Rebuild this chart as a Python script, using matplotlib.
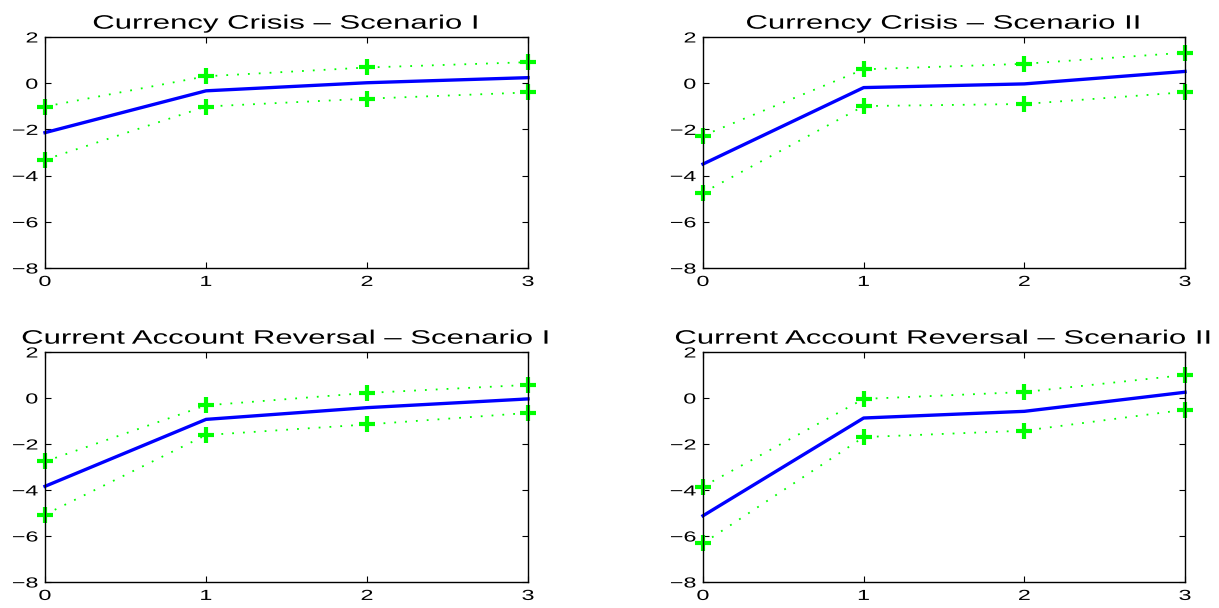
import matplotlib
matplotlib.use("Agg")
import matplotlib.pyplot as plt
from matplotlib.patheffects import AbstractPathEffect
from matplotlib.transforms import Affine2D

plt.rcParams['font.family'] = ['Liberation Sans', 'DejaVu Sans']

horizons = [0, 1, 2, 3]
x_ticks = [0, 1, 2, 3]
y_ticks = [-8, -6, -4, -2, 0, 2]

titles = [
    "Currency Crisis \u2013 Scenario I",
    "Currency Crisis \u2013 Scenario II",
    "Current Account Reversal \u2013 Scenario I",
    "Current Account Reversal \u2013 Scenario II",
]

# point estimate, upper band, lower band for each panel
cc1_mid = [-2.14, -0.33, 0.02, 0.24]
cc1_up = [-1.01, 0.30, 0.68, 0.91]
cc1_lo = [-3.31, -1.01, -0.67, -0.40]

cc2_mid = [-3.50, -0.19, -0.03, 0.51]
cc2_up = [-2.27, 0.60, 0.84, 1.32]
cc2_lo = [-4.74, -0.99, -0.90, -0.39]

car1_mid = [-3.84, -0.93, -0.42, -0.04]
car1_up = [-2.76, -0.32, 0.22, 0.57]
car1_lo = [-5.07, -1.61, -1.15, -0.65]

car2_mid = [-5.12, -0.87, -0.58, 0.25]
car2_up = [-3.85, -0.04, 0.26, 1.00]
car2_lo = [-6.32, -1.70, -1.42, -0.51]

panels = [
    (cc1_mid, cc1_up, cc1_lo),
    (cc2_mid, cc2_up, cc2_lo),
    (car1_mid, car1_up, car1_lo),
    (car2_mid, car2_up, car2_lo),
]


class StretchX(AbstractPathEffect):
    """Widen text glyphs horizontally (the reference font is stretched)."""

    def __init__(self, sx=1.6, anchor="center"):
        super().__init__()
        self.sx = sx
        self.anchor = anchor

    def draw_path(self, renderer, gc, tpath, affine, rgbFace=None):
        ext = tpath.get_extents()
        if self.anchor == "right":
            cx = ext.x1
        elif self.anchor == "left":
            cx = ext.x0
        else:
            cx = (ext.x0 + ext.x1) / 2
        t = Affine2D().translate(-cx, 0).scale(self.sx, 1).translate(cx, 0) + affine
        renderer.draw_path(gc, tpath, t, rgbFace)


W, H = 1219, 608
fig = plt.figure(figsize=(W / 100, H / 100), dpi=100)

# axes boxes in pixels: left, right, top, bottom
boxes = [
    (45, 528, 37, 268),
    (703, 1185, 37, 268),
    (45, 528, 352, 582),
    (703, 1185, 352, 582),
]

for (l, r, t, b), title, (mid, up, lo) in zip(boxes, titles, panels):
    ax = fig.add_axes([l / W, 1 - b / H, (r - l) / W, (b - t) / H])
    for band in (up, lo):
        ax.plot(horizons, band, color="#00ff00", linestyle=(0, (1, 5)), linewidth=1.3,
                marker="+", markersize=11, markeredgewidth=3, clip_on=False)
    ax.plot(horizons, mid, color="#0000ff", linewidth=2.4, clip_on=False)

    ax.set_xlim(0, 3)
    ax.set_ylim(-8, 2)
    ax.set_xticks(x_ticks)
    ax.set_yticks(y_ticks)
    ax.set_yticklabels([str(v).replace("-", "\u2212") for v in y_ticks])
    ax.tick_params(direction="in", top=True, right=True, length=4, width=0.8,
                   labelsize=10.5)
    ax.tick_params(axis="x", pad=5)
    ax.tick_params(axis="y", pad=5)
    for lab in ax.get_xticklabels():
        lab.set_path_effects([StretchX(1.6, "center")])
    for lab in ax.get_yticklabels():
        lab.set_path_effects([StretchX(1.6, "right")])
    for s in ax.spines.values():
        s.set_linewidth(1.0)
    ttl = ax.set_title(title, fontsize=14, pad=6)
    ttl.set_path_effects([StretchX(1.6, "center")])

fig.savefig("out.png", dpi=100)
